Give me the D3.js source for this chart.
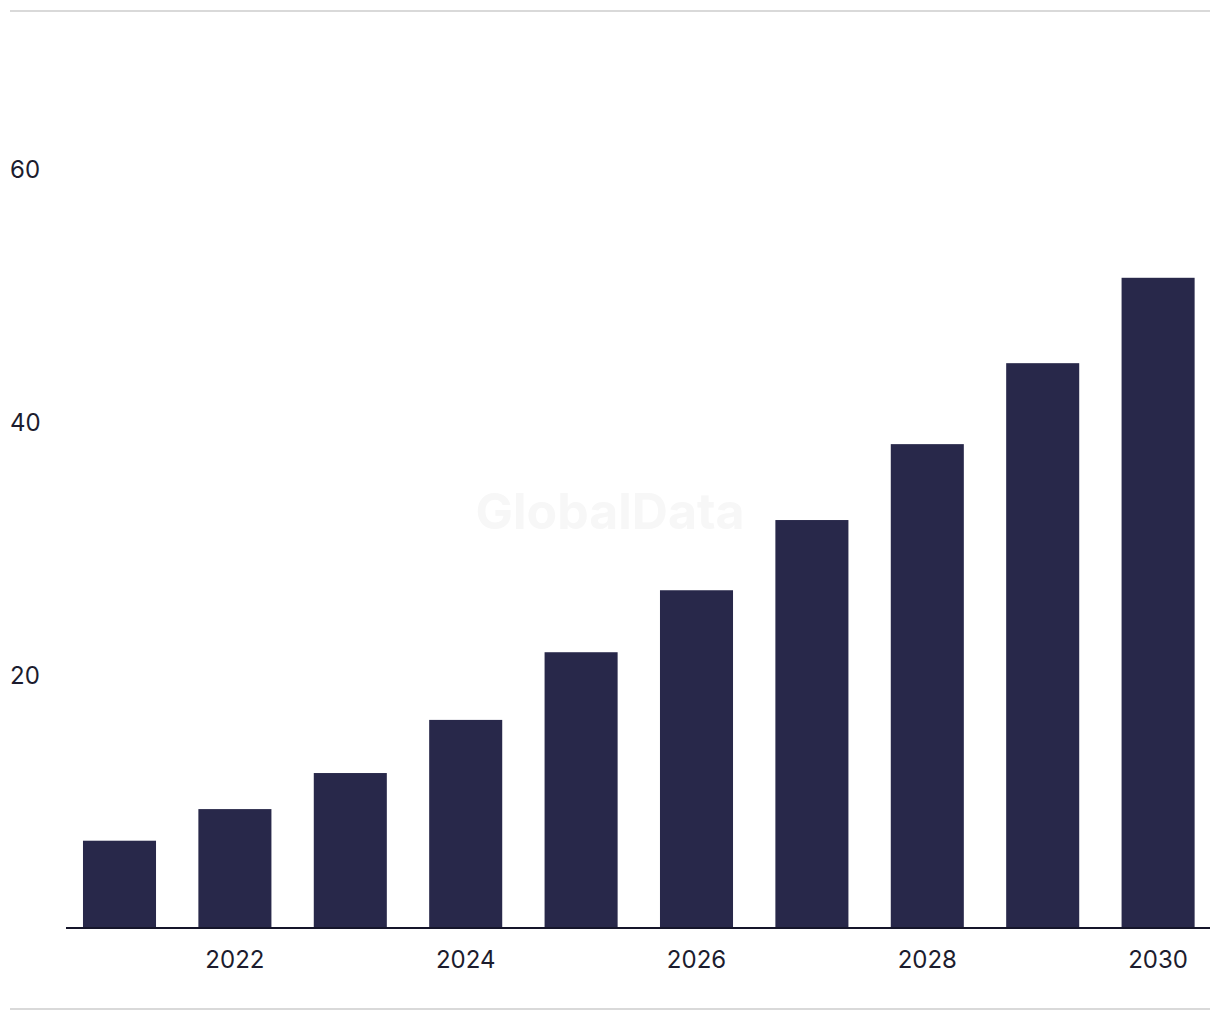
<!DOCTYPE html>
<html>
<head>
<meta charset="utf-8">
<script src="https://cdn.jsdelivr.net/npm/d3@7"></script>
<style>
  html, body { margin: 0; padding: 0; background: #fff; }
  svg { display: block; font-family: Inter, "Noto Sans", sans-serif; }
</style>
</head>
<body>
<svg id="chart" width="1220" height="1020"></svg>
<script>
const years = ["2021","2022","2023","2024","2025","2026","2027","2028","2029","2030"];
const values = [6.9, 9.4, 12.25, 16.45, 21.8, 26.7, 32.25, 38.25, 44.65, 51.4];
const yTicks = [20, 40, 60];
const xTickLabels = ["2022","2024","2026","2028","2030"];

const svg = d3.select("#chart");

// top and bottom rules
svg.append("line").attr("x1", 10).attr("x2", 1210).attr("y1", 11).attr("y2", 11)
  .attr("stroke", "#d9d9d9").attr("stroke-width", 2);
svg.append("line").attr("x1", 10).attr("x2", 1210).attr("y1", 1009).attr("y2", 1009)
  .attr("stroke", "#d9d9d9").attr("stroke-width", 2);

const x = d3.scaleBand().domain(years).range([61.8, 1215.8]).paddingInner(0.367).paddingOuter(0.1835);
const y = d3.scaleLinear().domain([0, 60]).range([928, 169]);

// watermark
svg.append("text").attr("x", 610).attr("y", 529).attr("text-anchor", "middle")
  .attr("font-size", 50).attr("font-weight", 700).attr("fill", "#f7f7f7")
  .attr("font-family", "Inter, 'Liberation Sans', sans-serif")
  .text("GlobalData");

// bars
svg.append("g").selectAll("rect").data(values).join("rect")
  .attr("x", (d, i) => x(years[i]))
  .attr("width", x.bandwidth())
  .attr("y", d => y(d))
  .attr("height", d => y(0) - y(d))
  .attr("fill", "#28284a");

// y axis labels
const yAxis = d3.axisLeft(y).tickValues(yTicks).tickSize(0).tickFormat(d3.format("d"));
const gy = svg.append("g").attr("transform", "translate(10,0)").call(yAxis);
gy.select(".domain").remove();
gy.selectAll("text").attr("text-anchor", "start").attr("x", 0).attr("dy", "0.34em")
  .attr("font-size", 24).attr("fill", "#1c1c2e").attr("font-family", "Inter, 'Noto Sans', sans-serif");

// x axis
const xAxis = d3.axisBottom(x).tickValues(xTickLabels).tickSize(0);
const gx = svg.append("g").attr("transform", "translate(0,928)").call(xAxis);
gx.select(".domain").remove();
gx.selectAll("text").attr("y", 32).attr("dy", "0.32em")
  .attr("font-size", 24).attr("fill", "#1c1c2e").attr("font-family", "Inter, 'Noto Sans', sans-serif");

svg.append("line").attr("x1", 66).attr("x2", 1210).attr("y1", 928).attr("y2", 928)
  .attr("stroke", "#15152a").attr("stroke-width", 2);
</script>
</body>
</html>
